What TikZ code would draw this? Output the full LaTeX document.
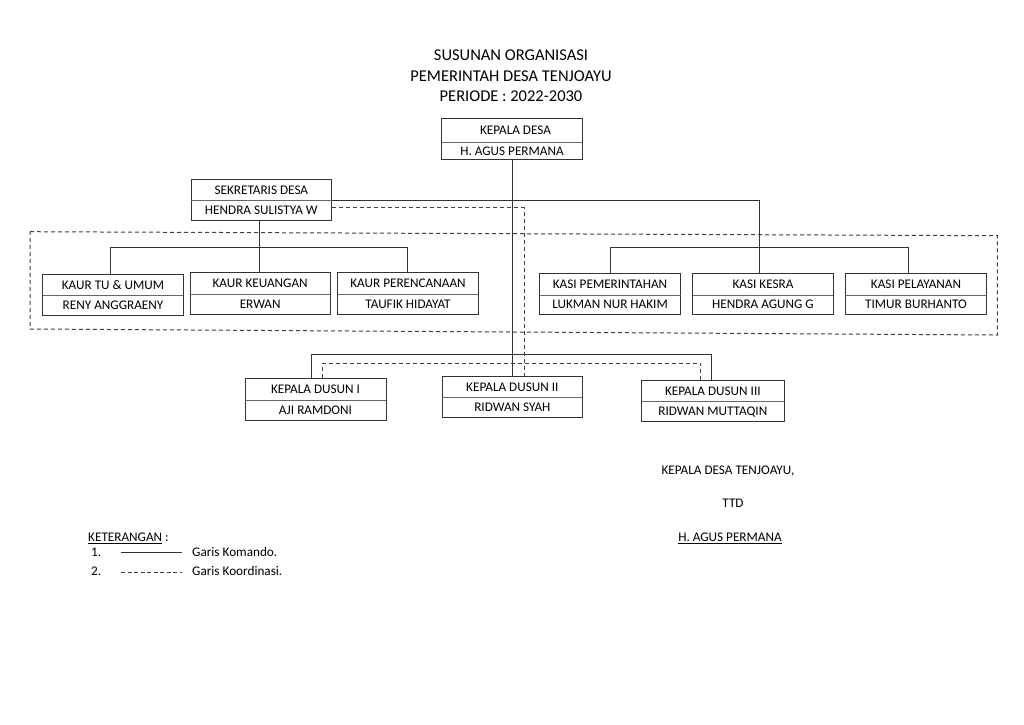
\documentclass[tikz,border=0pt]{standalone}
\usepackage{fontspec}
\setmainfont{Carlito}
\usetikzlibrary{fit,calc}
\tikzset{
  frame/.style={draw=black!80, line width=1pt, inner sep=0pt},
  divider/.style={draw=black!60, line width=0.7pt},
  boxtext/.style={inner sep=0pt, font=\fontsize{13.2}{15}\selectfont, text height=8.5pt, text depth=0pt},
  titletext/.style={inner sep=0pt, font=\fontsize{16.5}{20}\selectfont, text height=10.6pt, text depth=0pt},
  lbl/.style={inner sep=0pt, font=\fontsize{13.2}{15}\selectfont},
  cmd/.style={draw=black!80, line width=1pt},
  coord/.style={draw=black!75, line width=1pt, dash pattern=on 4pt off 3pt},
}
\newcommand\orgbox[8]{%
  \node[frame, fit={(#2,#3) (#4,#6)}] (#1) {};
  \draw[divider] (#2,#5) -- (#4,#5);
  \node[boxtext] (#1-a) at ({(#2+#4)/2},{(#3+#5)/2}) {#7};
  \node[boxtext] (#1-b) at ({(#2+#4)/2},{(#5+#6)/2}) {#8};
}
\begin{document}
\begin{tikzpicture}[x=1pt,y=-1pt]
\fill[white] (0,0) rectangle (1024,724);
\useasboundingbox (0,0) rectangle (1024,724);

% title
\node[titletext] (t1) at (511,55) {SUSUNAN ORGANISASI};
\node[titletext] (t2) at (511,76) {PEMERINTAH DESA TENJOAYU};
\node[titletext] (t3) at (511,96) {PERIODE : 2022-2030};

% dashed group frame
\draw[coord] (30,231.7) -- (997.3,235.7) -- (997.3,335) -- (30,329) -- cycle;

% boxes
\orgbox{kd}{441.7}{118.3}{582.3}{142.3}{159.3}{\hspace*{7pt}KEPALA DESA}{H. AGUS PERMANA}
\orgbox{sek}{191}{179.3}{331.7}{200.7}{220}{SEKRETARIS DESA}{HENDRA SULISTYA W}
\orgbox{tu}{42.7}{274.3}{183.3}{295.7}{315}{KAUR TU \& UMUM}{RENY ANGGRAENY}
\orgbox{keu}{190.3}{272.7}{330}{294.3}{314}{KAUR KEUANGAN}{ERWAN}
\orgbox{ren}{337.7}{272.7}{478.3}{294.3}{314.3}{KAUR PERENCANAAN}{TAUFIK HIDAYAT}
\orgbox{pem}{539.3}{273.3}{680.7}{295}{314.3}{KASI PEMERINTAHAN}{LUKMAN NUR HAKIM}
\orgbox{kes}{692.7}{273.3}{833.3}{295}{314.3}{KASI KESRA}{HENDRA AGUNG G}
\orgbox{pel}{845.3}{273.3}{986.7}{295}{314.3}{KASI PELAYANAN}{TIMUR BURHANTO}
\orgbox{dus1}{245}{378.3}{386}{400}{420}{KEPALA DUSUN I}{AJI RAMDONI}
\orgbox{dus2}{442}{376.7}{582.7}{397.7}{417.7}{KEPALA DUSUN II}{RIDWAN SYAH}
\orgbox{dus3}{641.7}{380}{784}{401.7}{421.7}{KEPALA DUSUN III}{RIDWAN MUTTAQIN}

% junction coordinates
\coordinate (jA) at (759.3,200.7);
\coordinate (kaurL) at (110.7,247.7);
\coordinate (kaurM) at (259.3,247.7);
\coordinate (kaurR) at (407.7,247.7);
\coordinate (kasiL) at (610,247.7);
\coordinate (kasiR) at (908.3,247.7);
\coordinate (dusL) at (311,354.3);
\coordinate (dusR) at (711.7,354.3);
\coordinate (dsA) at (524.3,207.7);
\coordinate (ddL) at (322.3,363.3);
\coordinate (ddR) at (700.7,363.3);

% command lines
\draw[cmd] (kd.south) -- (kd.south |- dus2.north);
\draw[cmd] (sek.east |- jA) -- (jA) -- (jA |- kes.north);
\draw[cmd] (kaurL |- tu.north) -- (kaurL) -- (kaurR) -- (kaurR |- ren.north);
\draw[cmd] (kaurM |- sek.south) -- (kaurM |- keu.north);
\draw[cmd] (kasiL |- pem.north) -- (kasiL) -- (kasiR) -- (kasiR |- pel.north);
\draw[cmd] (dusL |- dus1.north) -- (dusL) -- (dusR) -- (dusR |- dus3.north);

% coordination lines
\draw[coord] (sek.east |- dsA) -- (dsA) -- (dsA |- dus2.north);
\draw[coord] (ddL |- dus1.north) -- (ddL) -- (ddR) -- (ddR |- dus3.north);

% signature
\node[boxtext] (sig1) at (728,470) {KEPALA DESA TENJOAYU,};
\node[boxtext] (ttd) at (733,503) {TTD};
\node[boxtext] (sig2) at (730,537) {\underline{H. AGUS PERMANA}};

% legend
\node[lbl, anchor=base west] (ket) at (88,541.3) {\underline{KETERANGAN} :};
\node[lbl, anchor=base west] (n1) at (91,556.3) {1.};
\node[lbl, anchor=base west] (n2) at (91,575.3) {2.};
\coordinate (l1a) at (121,552);
\coordinate (l1b) at (182,552);
\coordinate (l2a) at (121,572);
\coordinate (l2b) at (182,572);
\draw[cmd] (l1a) -- (l1b);
\draw[coord, dash pattern=on 4pt off 2.5pt] (l2a) -- (l2b);
\node[lbl, anchor=base west] (g1) at (192,556.3) {Garis Komando.};
\node[lbl, anchor=base west] (g2) at (192,575.3) {Garis Koordinasi.};
\end{tikzpicture}
\end{document}
